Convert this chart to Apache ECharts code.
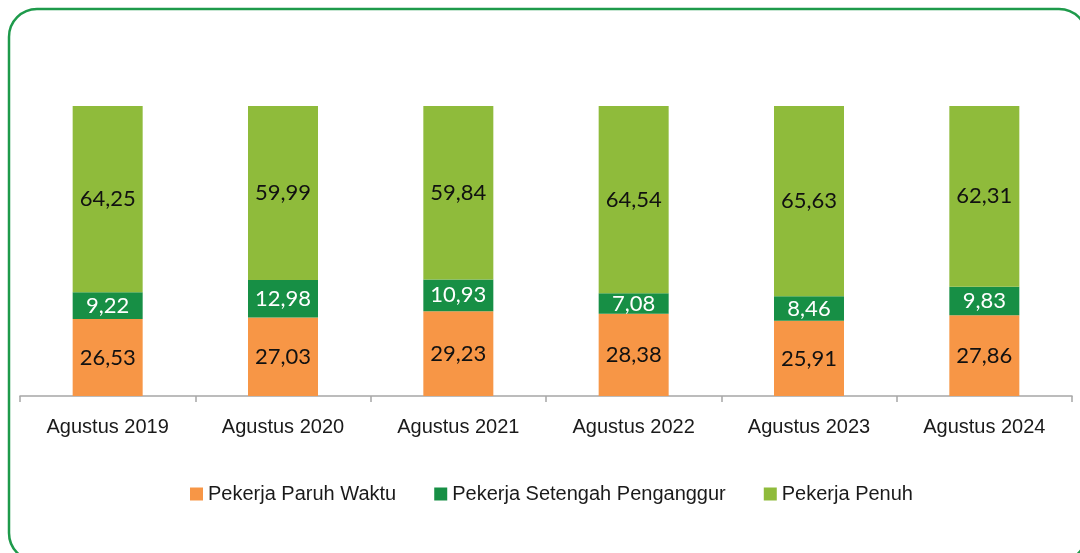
<!DOCTYPE html>
<html>
<head>
<meta charset="utf-8">
<script src="https://cdn.jsdelivr.net/npm/echarts@6/dist/echarts.min.js"></script>
<style>
  html, body { margin: 0; padding: 0; background: #ffffff; }
  #chart { width: 1080px; height: 553px; }
</style>
</head>
<body>
<div id="chart"></div>
<script>
const categories = ["Agustus 2019", "Agustus 2020", "Agustus 2021", "Agustus 2022", "Agustus 2023", "Agustus 2024"];
const paruhWaktu = [26.53, 27.03, 29.23, 28.38, 25.91, 27.86];
const setengahPenganggur = [9.22, 12.98, 10.93, 7.08, 8.46, 9.83];
const penuh = [64.25, 59.99, 59.84, 64.54, 65.63, 62.31];

const fmt = function (p) { return p.value.toFixed(2).replace('.', ','); };
const labelFont = 'Lato, "Open Sans", sans-serif';
const axisFont = '"Liberation Sans", Arial, sans-serif';

function barSeries(name, data, color, textColor) {
    return {
        type: 'bar',
        name: name,
        stack: 'total',
        data: data,
        barWidth: 70,
        itemStyle: { color: color },
        label: {
            show: true,
            position: 'inside',
            formatter: fmt,
            color: textColor,
            fontSize: 22,
            fontFamily: labelFont
        }
    };
}

const chart = echarts.init(document.getElementById('chart'), null, { renderer: 'canvas' });
const option = {
    backgroundColor: '#ffffff',
    animation: false,
    graphic: [
        {
            type: 'rect',
            shape: { x: 9, y: 9, width: 1078, height: 552, r: 28 },
            style: { fill: 'none', stroke: '#1e9a4b', lineWidth: 2.5 },
            z: -1
        }
    ],
    grid: { left: 20, right: 8, top: 106, bottom: 157, containLabel: false },
    legend: {
        data: ['Pekerja Paruh Waktu', 'Pekerja Setengah Penganggur', 'Pekerja Penuh'],
        top: 479,
        left: 185,
        itemWidth: 13,
        itemHeight: 13,
        itemGap: 38,
        icon: 'rect',
        textStyle: { fontSize: 20, color: '#1a1a1a', fontFamily: axisFont }
    },
    xAxis: {
        type: 'category',
        data: categories,
        axisLine: { lineStyle: { color: '#a6a6a6', width: 1.5 } },
        axisTick: { show: true, length: 6, lineStyle: { color: '#a6a6a6', width: 1.5 } },
        axisLabel: {
            fontSize: 20,
            color: '#1a1a1a',
            margin: 21,
            fontFamily: axisFont
        }
    },
    yAxis: {
        type: 'value',
        min: 0,
        max: 100,
        show: false,
        splitLine: { show: false }
    },
    series: [
        barSeries('Pekerja Paruh Waktu', paruhWaktu, '#f79646', '#111111'),
        barSeries('Pekerja Setengah Penganggur', setengahPenganggur, '#178f45', '#ffffff'),
        barSeries('Pekerja Penuh', penuh, '#8fbb3b', '#111111')
    ]
};
chart.setOption(option);
</script>
</body>
</html>
